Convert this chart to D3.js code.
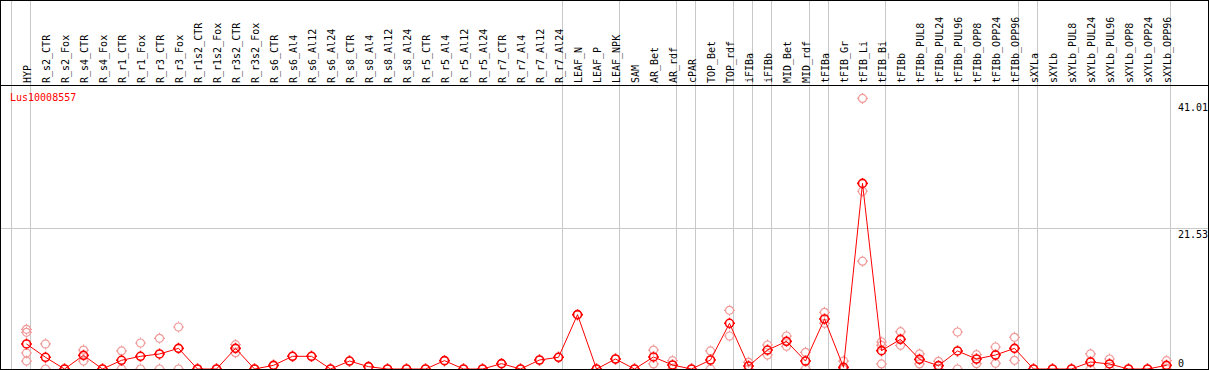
<!DOCTYPE html>
<html lang="en">
<head>
<meta charset="UTF-8">
<title>Lus10008557 | D3</title>
<style>
  body { margin: 0; background: #fff; }
  text { font-family: "DejaVu Sans Mono", monospace; font-size: 10px; }
</style>
</head>
<body>
<div id="chart"></div>
<script src="https://d3js.org/d3.v7.min.js"></script>
<script>
var geneName = "Lus10008557";

var samples = ["HYP", "R_s2_CTR", "R_s2_Fox", "R_s4_CTR", "R_s4_Fox", "R_r1_CTR", "R_r1_Fox",
    "R_r3_CTR", "R_r3_Fox", "R_r1s2_CTR", "R_r1s2_Fox", "R_r3s2_CTR", "R_r3s2_Fox",
    "R_s6_CTR", "R_s6_Al4", "R_s6_Al12", "R_s6_Al24", "R_s8_CTR", "R_s8_Al4", "R_s8_Al12", "R_s8_Al24",
    "R_r5_CTR", "R_r5_Al4", "R_r5_Al12", "R_r5_Al24", "R_r7_CTR", "R_r7_Al4", "R_r7_Al12", "R_r7_Al24",
    "LEAF_N", "LEAF_P", "LEAF_NPK", "SAM", "AR_Bet", "AR_rdf", "cPAR", "TOP_Bet", "TOP_rdf",
    "iFIBa", "iFIBb", "MID_Bet", "MID_rdf", "tFIBa", "tFIB_Gr", "tFIB_Li", "tFIB_Bi", "tFIBb",
    "tFIBb_PUL8", "tFIBb_PUL24", "tFIBb_PUL96", "tFIBb_OPP8", "tFIBb_OPP24", "tFIBb_OPP96",
    "sXYLa", "sXYLb", "sXYLb_PUL8", "sXYLb_PUL24", "sXYLb_PUL96", "sXYLb_OPP8", "sXYLb_OPP24", "sXYLb_OPP96"];

// mean expression per sample
var means = [3.83, 1.79, 0, 2.09, 0, 1.33, 1.94, 2.3, 3.16, 0, 0, 3.16, 0,
    0.56, 1.94, 1.94, 0, 1.22, 0.36, 0, 0, 0, 1.28, 0, 0, 0.82, 0, 1.38, 1.79,
    8.32, 0, 1.53, 0, 1.84, 0.61, 0, 1.38, 6.99, 0.46, 2.9, 4.23, 1.22, 7.65, 0.26, 28.4, 2.81, 4.54,
    1.48, 0.51, 2.76, 1.53, 2.14, 3.16, 0, 0, 0, 1.07, 0.77, 0, 0, 0.56];

// individual replicates
var replicates = [[6.07, 5.61, 2.45, 1.22], [3.83, 0], [0, 0], [2.9, 1.22], [0, 0], [2.76, 0], [3.98, 0],
    [4.69, 0], [6.43, 0], [0, 0], [0, 0], [3.72, 2.5], [0, 0],
    [0.56], [1.94], [1.94], [0], [1.22], [0.36], [0], [0], [0], [1.28], [0], [0], [0.82], [0], [1.38], [1.79],
    [8.32], [0], [1.53], [0], [2.9, 0.77], [1.28, 0], [0], [2.76, 0], [8.98, 5.05],
    [1.02, 0], [3.67, 2.14], [5.05, 3.47], [2.55, 0], [8.67, 6.99], [1.22, 0, 0], [41.4, 27.2, 16.5], [4.13, 3.6, 0.77], [5.71, 3.62],
    [2.3, 0.77], [1.17, 0], [5.66, 0], [2.19, 0.82], [3.37, 0.87], [4.85, 1.33],
    [0], [0], [0], [2.3, 0], [1.53, 0], [0], [0], [1.28, 0]];

// index of the last sample in each group (-1 = line before the first one)
var groupEnds = [-1, 0, 28, 31, 34, 35, 37, 38, 39, 41, 42, 45, 52, 53, 60];

var tickValues = [0, 21.53, 41.01];

var width = 1209, height = 370;
var headerBottom = 85.5;

var svg = d3.select("#chart").append("svg")
    .attr("width", width)
    .attr("height", height);

var x = d3.scalePoint()
    .domain(samples)
    .range([26.5, 1166.5]);

var y = d3.scaleLinear()
    .domain([0, 41.01])
    .range([369, 101]);

// horizontal grid line (only between bottom and top value)
svg.append("g")
    .selectAll("line")
    .data(tickValues.filter(function(v) { return v > 0 && v < 41.01; }))
    .enter().append("line")
    .attr("x1", 0).attr("x2", width)
    .attr("y1", function(d) { return Math.round(y(d)) + 0.5; })
    .attr("y2", function(d) { return Math.round(y(d)) + 0.5; })
    .attr("stroke", "#c8c8c8");

// vertical group separators
svg.append("g")
    .selectAll("line")
    .data(groupEnds)
    .enter().append("line")
    .attr("x1", function(i) { return Math.floor(x(samples[0]) + i * x.step()) + 4.5; })
    .attr("x2", function(i) { return Math.floor(x(samples[0]) + i * x.step()) + 4.5; })
    .attr("y1", 0).attr("y2", height)
    .attr("stroke", "#c8c8c8");

// sample labels in header
svg.append("g")
    .selectAll("text")
    .data(samples)
    .enter().append("text")
    .attr("transform", function(d) { return "translate(" + (x(d) + 4) + ",83) rotate(-90)"; })
    .attr("fill", "#000")
    .text(function(d) { return d; });

svg.append("line")
    .attr("x1", 0).attr("x2", width)
    .attr("y1", headerBottom).attr("y2", headerBottom)
    .attr("stroke", "#000");

svg.append("text")
    .attr("x", 10).attr("y", 101)
    .attr("fill", "#ff0000")
    .text(geneName);

// right value labels
var yAxis = d3.axisRight(y)
    .tickValues(tickValues)
    .tickFormat(function(d) { return d === 0 ? "0" : d3.format(".2f")(d); })
    .tickSize(0)
    .tickPadding(0);

var axisGroup = svg.append("g")
    .attr("transform", "translate(1178,0)")
    .call(yAxis);
axisGroup.select(".domain").remove();
axisGroup.selectAll("text")
    .attr("x", 0)
    .attr("dy", null)
    .attr("y", function(d) { return Math.min(y(d) + 9, 366) - y(d); })
    .style("font-family", "'DejaVu Sans Mono', monospace")
    .style("font-size", "10px")
    .attr("fill", "#000");

// circle with tiny ticks at the four sides
function marker(r) {
    var p = d3.path();
    p.moveTo(r, 0);
    p.arc(0, 0, r, 0, 2 * Math.PI);
    p.moveTo(0, -r); p.lineTo(0, -r - 1.5);
    p.moveTo(0, r); p.lineTo(0, r + 1.5);
    p.moveTo(-r, 0); p.lineTo(-r - 1.5, 0);
    p.moveTo(r, 0); p.lineTo(r + 1.5, 0);
    return p.toString();
}

var repPoints = [];
replicates.forEach(function(list, i) {
    list.forEach(function(v) { repPoints.push({ name: samples[i], value: v }); });
});

svg.append("g")
    .selectAll("path")
    .data(repPoints)
    .enter().append("path")
    .attr("d", marker(4))
    .attr("transform", function(d) { return "translate(" + x(d.name) + "," + y(d.value) + ")"; })
    .attr("fill", "none")
    .attr("stroke", "#f09a9a")
    .attr("stroke-width", 1.2);

var meanLine = d3.line()
    .x(function(d, i) { return x(samples[i]); })
    .y(function(d) { return y(d); });

svg.append("path")
    .datum(means)
    .attr("d", meanLine)
    .attr("fill", "none")
    .attr("stroke", "#ff0000")
    .attr("stroke-width", 1);

svg.append("g")
    .selectAll("path")
    .data(means)
    .enter().append("path")
    .attr("d", marker(4))
    .attr("transform", function(d, i) { return "translate(" + x(samples[i]) + "," + y(d) + ")"; })
    .attr("fill", "none")
    .attr("stroke", "#ff0000")
    .attr("stroke-width", 1.6);

// outer frame
svg.append("rect")
    .attr("x", 0.5).attr("y", 0.5)
    .attr("width", 1208).attr("height", 369)
    .attr("fill", "none")
    .attr("stroke", "#000");
</script>
</body>
</html>
